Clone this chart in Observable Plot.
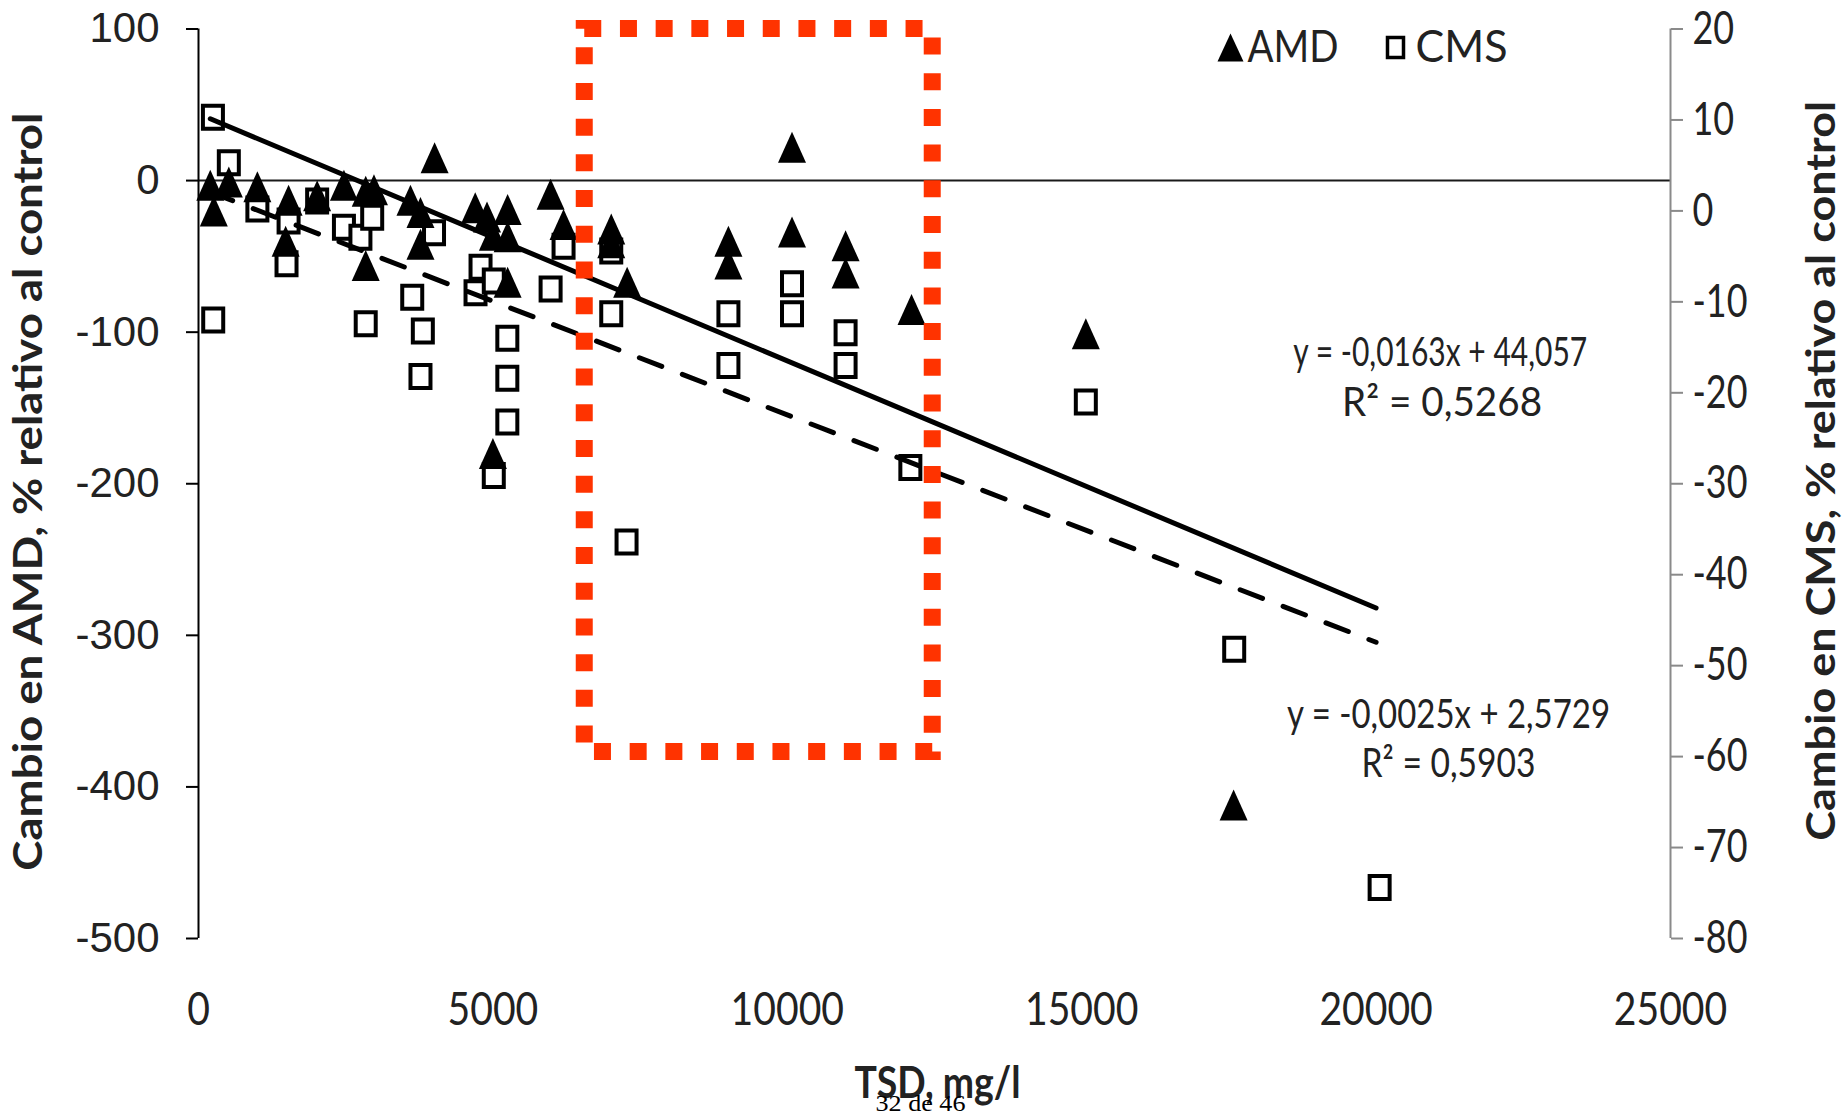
<!DOCTYPE html>
<html><head><meta charset="utf-8">
<script src="https://cdn.jsdelivr.net/npm/d3@7"></script>
<script src="https://cdn.jsdelivr.net/npm/@observablehq/plot@0.6"></script>
<style>
html,body{margin:0;padding:0;background:#fff;}
#chart{width:1843px;height:1115px;}
</style></head><body><div id="chart"></div>
<script>
// ---- Data ----
// AMD (left axis, % relativo al control)
const amdX = [200, 260, 515, 1000, 1530, 1480, 2015, 2470, 2840, 2980, 2840, 3600, 3770, 3770, 4010, 4700, 4900, 5000, 5250, 5250, 5250, 5000, 5980, 6200, 7010, 7010, 7280, 9000, 9000, 10080, 10080, 10990, 10990, 12110, 15070, 17580];
const amdY = [-3, -20, -1, -4, -13, -40, -10, -3, -7, -6, -56, -13, -21, -42, 15, -18, -24, -36, -19, -37, -67, -180, -9, -29, -32, -41, -67, -40, -55, 22, -34, -43, -61, -85, -101, -412];
// CMS (right axis, % relativo al control)
const cmsX = [245, 250, 515, 1000, 1530, 1495, 2015, 2470, 2750, 2950, 2840, 3630, 3810, 3770, 4000, 4705, 4790, 5015, 5245, 5245, 5245, 5015, 5980, 6200, 7010, 7010, 7270, 9000, 9000, 10080, 10080, 10990, 10990, 12090, 15070, 17590, 20060];
const cmsY = [10.3, -12.0, 5.3, 0.2, -1.1, -5.8, 1.1, -1.8, -2.9, -0.7, -12.4, -9.5, -13.2, -18.2, -2.4, -9.0, -6.2, -7.7, -14.0, -18.4, -23.2, -29.1, -8.6, -3.9, -4.4, -11.3, -36.4, -11.3, -17.0, -8.0, -11.3, -13.4, -17.0, -28.2, -21.0, -48.2, -74.4];

const xTicks = [0, 5000, 10000, 15000, 20000, 25000];
const leftTicks = [100, 0, -100, -200, -300, -400, -500];
const rightTicks = [20, 10, 0, -10, -20, -30, -40, -50, -60, -70, -80];

// Trendlines (equations printed on the chart)
const fitSlopes = [-0.0163, -0.0025];
const fitIntercepts = [44.057, 2.5729];
const fitXRange = [200, 20000];
const eqTexts = ["y = -0,0163x + 44,057", "R² = 0,5268", "y = -0,0025x + 2,5729", "R² = 0,5903"];
const eqX = [21090, 21120, 21230, 21230];
const eqY = [-114, -147, -353, -385];

// Highlighted region (red dotted box)
const boxX = [6560, 12470];
const boxY = [-377, 100];

const legendNames = ["AMD", "CMS"];

// ---- Helpers ----
const toLeft = d3.scaleLinear().domain([rightTicks[rightTicks.length - 1], rightTicks[0]]).range([leftTicks[leftTicks.length - 1], leftTicks[0]]);
const amd = amdX.map((x, i) => ({x, y: amdY[i]}));
const cms = cmsX.map((x, i) => ({x, y: toLeft(cmsY[i])}));
const amdLine = fitXRange.map(x => ({x, y: fitSlopes[0] * x + fitIntercepts[0]}));
const cmsLine = fitXRange.map(x => ({x, y: toLeft(fitSlopes[1] * x + fitIntercepts[1])}));
const eqs = eqTexts.map((t, i) => ({text: t, x: eqX[i], y: eqY[i]}));
const box = [{x1: boxX[0], x2: boxX[1], y1: boxY[0], y2: boxY[1]}];

const triSym = {draw(ctx) { ctx.moveTo(0, -15.5); ctx.lineTo(14, 15.5); ctx.lineTo(-14, 15.5); ctx.closePath(); }};
const sqSym = {draw(ctx) { ctx.rect(-10, -11.5, 20, 23); }};
const legTri = {draw(ctx) { ctx.moveTo(0, -14); ctx.lineTo(13, 14); ctx.lineTo(-13, 14); ctx.closePath(); }};
const legSq = {draw(ctx) { ctx.rect(-8, -10, 16, 20); }};

const SANS = "Lato, 'Open Sans', sans-serif";

const svg = Plot.plot({
  width: 1843,
  height: 1115,
  marginLeft: 198,
  marginRight: 173,
  marginTop: 28.5,
  marginBottom: 177,
  style: {background: "#fff", overflow: "visible"},
  x: {domain: [0, 25000]},
  y: {domain: [-500, 100]},
  marks: [
    Plot.ruleY([0], {stroke: "#1a1a1a", strokeWidth: 2}),
    Plot.ruleX([25000], {stroke: "#8a8a8a", strokeWidth: 2}),
    Plot.ruleX([0], {stroke: "#000", strokeWidth: 2}),
    Plot.axisY({anchor: "left", ticks: leftTicks, tickFormat: d => String(d), tickSize: 12, tickPadding: 27,
      fontSize: 42, fontFamily: "'Liberation Sans', Arial, sans-serif", stroke: "#000", strokeWidth: 2, fill: "#222", label: null}),
    Plot.axisY({anchor: "right", ticks: rightTicks.map(toLeft), tickFormat: d => String(Math.round(toLeft.invert(d))),
      tickSize: 12, tickPadding: 10, fontSize: 46, fontFamily: SANS, stroke: "#8a8a8a", strokeWidth: 2, fill: "#222", label: null}),
    Plot.axisX({anchor: "bottom", ticks: xTicks, tickFormat: d => String(d), tickSize: 0, tickPadding: 54,
      fontSize: 46, fontFamily: SANS, fill: "#222", label: null}),
    Plot.dot(cms, {x: "x", y: "y", symbol: sqSym, fill: "#fff", stroke: "#000", strokeWidth: 4}),
    Plot.dot(amd, {x: "x", y: "y", symbol: triSym, fill: "#000", stroke: "none"}),
    Plot.line(amdLine, {x: "x", y: "y", stroke: "#000", strokeWidth: 5}),
    Plot.line(cmsLine, {x: "x", y: "y", stroke: "#000", strokeWidth: 5, strokeDasharray: "24,22"}),
    Plot.rect(box, {x1: "x1", x2: "x2", y1: "y1", y2: "y2", fill: "none", stroke: "#ff3300", strokeWidth: 17, strokeDasharray: "17,18.7"}),
    Plot.text(eqs, {x: "x", y: "y", text: "text", fontSize: 40, fontFamily: SANS, fill: "#222"}),
    // legend
    Plot.dot([0], {frameAnchor: "top-left", dx: 1032, dy: 18.5, symbol: legTri, fill: "#000", stroke: "none"}),
    Plot.text([legendNames[0]], {frameAnchor: "top-left", dx: 1049, dy: 18.5, textAnchor: "start", lineAnchor: "middle", fontSize: 44, fontFamily: SANS, fill: "#222"}),
    Plot.dot([0], {frameAnchor: "top-left", dx: 1197, dy: 18.5, symbol: legSq, fill: "#fff", stroke: "#000", strokeWidth: 3.5}),
    Plot.text([legendNames[1]], {frameAnchor: "top-left", dx: 1217, dy: 18.5, textAnchor: "start", lineAnchor: "middle", fontSize: 44, fontFamily: SANS, fill: "#222"}),
    // axis titles
    Plot.text(["Cambio en AMD, % relativo al control"], {frameAnchor: "left", dx: -169, dy: 8, rotate: -90, textAnchor: "middle", lineAnchor: "middle", fontSize: 40, fontWeight: "bold", fontFamily: SANS, fill: "#222"}),
    Plot.text(["Cambio en CMS, % relativo al control"], {frameAnchor: "right", dx: 152, dy: -13, rotate: -90, textAnchor: "middle", lineAnchor: "middle", fontSize: 40, fontWeight: "bold", fontFamily: SANS, fill: "#222"}),
    Plot.text(["TSD, mg/l"], {frameAnchor: "bottom", dx: 3, dy: 145, textAnchor: "middle", lineAnchor: "middle", fontSize: 44, fontWeight: "bold", fontFamily: SANS, fill: "#222"}),
    Plot.text(["32 de 46"], {frameAnchor: "bottom", dx: -14, dy: 165, textAnchor: "middle", lineAnchor: "middle", fontSize: 24, fontFamily: "'Liberation Serif', 'Times New Roman', serif", fill: "#000"})
  ]
});
document.getElementById("chart").append(svg);

// horizontal condensing to match the reference's narrow glyphs
function fitWidth(node, w) {
  node.setAttribute("textLength", w);
  node.setAttribute("lengthAdjust", "spacingAndGlyphs");
}
function condense(node, f) {
  const L = node.getComputedTextLength();
  fitWidth(node, L * f);
}
const texts = Array.from(svg.querySelectorAll("text"));
const byContent = s => texts.find(t => t.textContent === s);
svg.querySelectorAll('g[aria-label="x-axis tick label"] text').forEach(t => condense(t, 0.85));
const yLabelGroups = svg.querySelectorAll('g[aria-label="y-axis tick label"]');
if (yLabelGroups[1]) yLabelGroups[1].querySelectorAll("text").forEach(t => condense(t, 0.78));
const targets = {
  "Cambio en AMD, % relativo al control": 758,
  "Cambio en CMS, % relativo al control": 740,
  "TSD, mg/l": 166,
  "32 de 46": 90,
  "AMD": 91,
  "CMS": 92,
  "y = -0,0163x + 44,057": 294,
  "R² = 0,5268": 200,
  "y = -0,0025x + 2,5729": 323,
  "R² = 0,5903": 174
};
for (const [s, w] of Object.entries(targets)) { const t = byContent(s); if (t) fitWidth(t, w); }
</script>
</body></html>
